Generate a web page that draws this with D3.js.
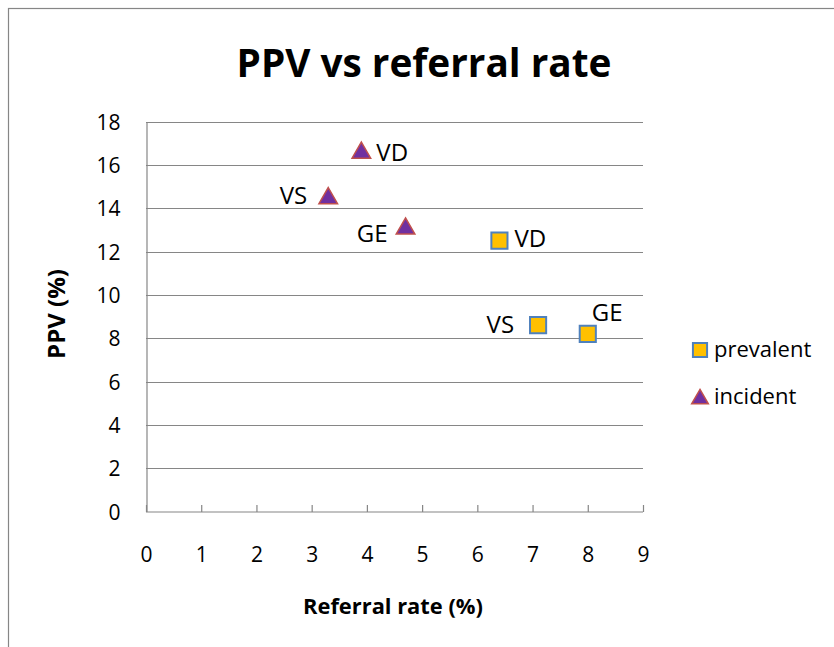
<!DOCTYPE html>
<html><head><meta charset="utf-8">
<script src="https://cdn.jsdelivr.net/npm/d3@7"></script>
<style>body{margin:0;background:#fff;} svg{display:block;} text{font-family:"Open Sans","Liberation Sans",sans-serif;fill:#000;}</style>
</head><body>
<svg id="c" width="834" height="647"></svg>
<script>
const title = "PPV vs referral rate";
const xTitle = "Referral rate (%)";
const yTitle = "PPV (%)";
const xTicks = [0,1,2,3,4,5,6,7,8,9];
const yTicks = [0,2,4,6,8,10,12,14,16,18];
const seriesNames = ["prevalent","incident"];
const labels = ["VD","VS","GE"];
const prevalentX = [6.4, 7.1, 8.0];
const prevalentY = [12.5, 8.6, 8.2];
const incidentX = [3.9, 3.3, 4.7];
const incidentY = [16.6, 14.5, 13.1];

const svg = d3.select("#c");
const L=146, R=643, T=121.5, B=511.5;
const x = d3.scaleLinear().domain([0,9]).range([L,R]);
const y = d3.scaleLinear().domain([0,18]).range([B,T]);
const grid="#868686";

function fit(sel, target, base){
  const w = sel.node().getComputedTextLength();
  sel.attr("font-size", base*target/w);
}

svg.append("rect").attr("x",8.5).attr("y",8.5).attr("width",1000).attr("height",1000)
  .attr("fill","none").attr("stroke",grid).attr("stroke-width",1.2);

const tt = svg.append("text").attr("x",424).attr("y",77).attr("text-anchor","middle")
  .attr("font-weight","bold").attr("font-size",36).text(title);
fit(tt, 375, 36);

// gridlines
svg.append("g").selectAll("line").data(yTicks.filter(d=>d>0)).join("line")
  .attr("x1",L).attr("x2",R).attr("y1",d=>Math.round(y(d))+0.5).attr("y2",d=>Math.round(y(d))+0.5)
  .attr("stroke",grid).attr("stroke-width",1.2);

// y axis
const ya = svg.append("g").attr("transform",`translate(${L+0.5},0)`)
  .call(d3.axisLeft(y).tickValues(yTicks).tickSize(0).tickPadding(26));
ya.select(".domain").attr("stroke",grid).attr("stroke-width",1.2);
ya.selectAll("text").attr("font-size",21).attr("font-family","Open Sans").attr("dy","0.36em");

// x axis
const xa = svg.append("g").attr("transform",`translate(0,${B+0.5})`)
  .call(d3.axisBottom(x).tickValues(xTicks).tickSize(-7).tickPadding(35));
xa.select(".domain").attr("stroke",grid).attr("stroke-width",1.2).attr("d",`M${L},0H${R}`);
xa.selectAll("line").attr("stroke",grid).attr("stroke-width",1.2);
xa.selectAll("text").attr("font-size",21).attr("font-family","Open Sans");

const xt = svg.append("text").attr("x",393).attr("y",614).attr("text-anchor","middle")
  .attr("font-weight","bold").attr("font-size",20).text(xTitle);
fit(xt, 180, 20);
const yt = svg.append("text").attr("transform","translate(65,314) rotate(-90)").attr("text-anchor","middle")
  .attr("font-weight","bold").attr("font-size",20).text(yTitle);
fit(yt, 90, 20);

const sq = d3.symbol().type(d3.symbolSquare).size(260);
const tri = d3.symbol().type(d3.symbolTriangle).size(150);

const prev = labels.map((l,i)=>({l,x:prevalentX[i],y:prevalentY[i]}));
const inc = labels.map((l,i)=>({l,x:incidentX[i],y:incidentY[i]}));

svg.append("g").selectAll("path").data(prev).join("path")
  .attr("d",sq).attr("transform",d=>`translate(${x(d.x)},${y(d.y)})`)
  .attr("fill","#FFC000").attr("stroke","#4F81BD").attr("stroke-width",2);
svg.append("g").selectAll("path").data(inc).join("path")
  .attr("d",tri).attr("transform",d=>`translate(${x(d.x)},${y(d.y)+1})`)
  .attr("fill","#7030A0").attr("stroke","#C0504D").attr("stroke-width",1.5);

// label placements: [dx, dy, anchor]
const prevPos = [[15,6,"start"],[-24,8,"end"],[4,-13,"start"]];
const incPos = [[15,9,"start"],[-21,7,"end"],[-18,14,"end"]];
svg.append("g").selectAll("text").data(prev).join("text")
  .attr("x",(d,i)=>x(d.x)+prevPos[i][0]).attr("y",(d,i)=>y(d.y)+prevPos[i][1])
  .attr("text-anchor",(d,i)=>prevPos[i][2]).attr("font-size",24).text(d=>d.l);
svg.append("g").selectAll("text").data(inc).join("text")
  .attr("x",(d,i)=>x(d.x)+incPos[i][0]).attr("y",(d,i)=>y(d.y)+incPos[i][1])
  .attr("text-anchor",(d,i)=>incPos[i][2]).attr("font-size",24).text(d=>d.l);

// legend
const lg = svg.append("g");
lg.append("path").attr("d",d3.symbol().type(d3.symbolSquare).size(200))
  .attr("transform","translate(700,350)").attr("fill","#FFC000").attr("stroke","#4F81BD").attr("stroke-width",2);
lg.append("path").attr("d",d3.symbol().type(d3.symbolTriangle).size(120))
  .attr("transform","translate(700,399)").attr("fill","#7030A0").attr("stroke","#C0504D").attr("stroke-width",1.5);
lg.append("text").attr("x",714).attr("y",357).attr("font-size",22).text(seriesNames[0]);
lg.append("text").attr("x",714).attr("y",404).attr("font-size",22).text(seriesNames[1]);
</script>
</body></html>
